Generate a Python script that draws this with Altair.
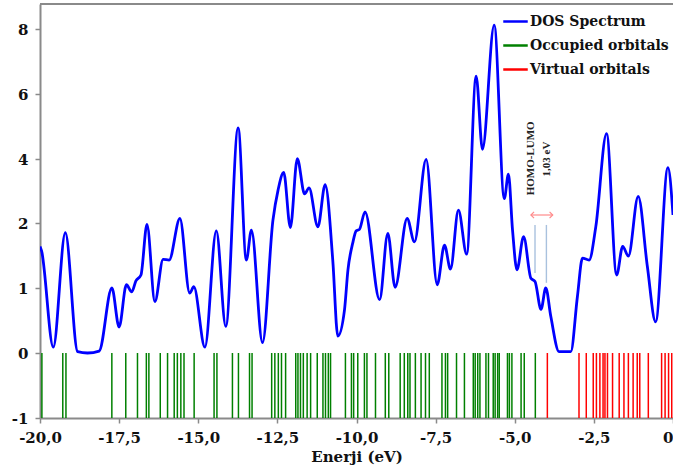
import altair as alt
import pandas as pd

# ---- data ----
dos_energy = [-20.00, -19.95, -19.58, -19.20, -18.81, -18.50, -18.13, -17.73, -17.50, -17.27,
              -17.10, -16.97, -16.81, -16.62, -16.37, -16.11, -15.92, -15.58, -15.27, -15.14,
              -14.79, -14.43, -14.13, -13.74, -13.48, -13.32, -12.97, -12.64, -12.48, -12.30,
              -12.09, -11.87, -11.64, -11.50, -11.22, -10.99, -10.75, -10.59, -10.38, -10.27,
              -10.12, -10.01, -9.91, -9.73, -9.27, -9.01, -8.78, -8.40, -8.17, -7.80,
              -7.45, -7.22, -7.03, -6.78, -6.52, -6.22, -6.02, -5.65, -5.33, -5.20,
              -5.07, -4.93, -4.72, -4.49, -4.36, -4.17, -4.02, -3.86, -3.60, -3.23,
              -3.02, -2.86, -2.65, -2.44, -2.10, -1.78, -1.59, -1.41, -1.10, -0.81,
              -0.55, -0.16, 0.00]
dos_value = [1.64, 1.57, 0.09, 1.85, 0.02, 0.00, 0.03, 1.00, 0.40, 1.05,
             0.94, 1.11, 1.20, 1.98, 0.79, 1.44, 1.43, 2.14, 0.92, 1.02,
             0.09, 1.88, 0.41, 4.96, 1.43, 1.89, 0.16, 2.09, 3.02, 3.58,
             1.93, 4.01, 2.91, 3.10, 1.94, 3.20, 1.43, 0.26, 0.66, 1.28,
             1.69, 1.88, 1.90, 2.35, 0.82, 1.84, 1.01, 2.14, 1.71, 3.99,
             1.05, 1.66, 1.29, 2.40, 1.52, 6.55, 4.30, 8.12, 2.76, 3.53,
             1.89, 1.28, 1.79, 1.15, 1.10, 0.67, 1.00, 0.56, 0.02, 0.02,
             0.87, 1.46, 1.43, 1.94, 4.78, 1.20, 1.64, 1.49, 2.83, 1.33,
             0.48, 3.73, 2.25]

occupied = [-19.94, -19.28, -19.18, -17.73, -17.29, -16.92, -16.64, -16.56, -16.20, -15.97,
            -15.76, -15.66, -15.55, -15.45, -15.13, -14.50, -14.41, -13.92, -13.73, -13.38,
            -13.30, -12.68, -12.58, -12.47, -12.37, -12.24, -11.92, -11.85, -11.77, -11.68,
            -11.56, -11.45, -11.24, -11.06, -10.98, -10.89, -10.82, -10.35, -10.16, -10.09,
            -9.96, -9.75, -9.67, -9.40, -9.09, -8.98, -8.62, -8.49, -8.38, -8.31,
            -8.14, -7.96, -7.82, -7.70, -7.30, -7.19, -7.12, -6.84, -6.59, -6.31,
            -6.25, -6.17, -6.10, -5.91, -5.83, -5.68, -5.62, -5.54, -5.49, -5.23,
            -5.17, -5.09, -4.80, -4.70, -4.35]
virtual = [-3.97, -2.97, -2.74, -2.52, -2.42, -2.31, -2.21, -2.15, -2.07, -1.91,
           -1.70, -1.55, -1.41, -1.26, -1.13, -1.05, -0.78, -0.36, -0.25, -0.14, -0.04]

series_names = ["DOS Spectrum", "Occupied orbitals", "Virtual orbitals"]
series_colors = ["#0000FF", "#008000", "#FF0000"]

x_ticks = [-20, -17.5, -15, -12.5, -10, -7.5, -5, -2.5, 0]
y_ticks = [-1, 0, 1, 2, 4, 6, 8]

homo_lumo_x = [-4.36, -4.00]
homo_lumo_y0 = [1.23, 1.08]
homo_lumo_y1 = [1.97, 1.97]
gap_arrow = [-4.49, -3.80]
gap_arrow_y = 2.25
note_texts = ["HOMO-LUMO", "1,03 eV"]
note_x = [-4.49, -3.97]
note_y = [4.02, 4.00]

# ---- layout ----
W, H = 633, 414
y_domain = [-1, 0, 1, 2, 4, 6, 8, 8.77]
y_range = [414, 349, 284, 219, 155, 90, 25, 0]
FONT = "DejaVu Serif"
NOTE_FONT = "Liberation Serif"

dos_df = pd.DataFrame({"E": dos_energy, "v": dos_value, "series": series_names[0]})
stick_df = pd.DataFrame({
    "E": occupied + virtual,
    "lo": -1, "hi": 0,
    "series": [series_names[1]] * len(occupied) + [series_names[2]] * len(virtual),
})
hl_df = pd.DataFrame({"E": homo_lumo_x, "lo": homo_lumo_y0, "hi": homo_lumo_y1})
arrow_df = pd.DataFrame({"E": [gap_arrow[0]], "E2": [gap_arrow[1]], "y": [gap_arrow_y]})
head_l = pd.DataFrame({"E": [gap_arrow[0]], "y": [gap_arrow_y]})
head_r = pd.DataFrame({"E": [gap_arrow[1]], "y": [gap_arrow_y]})
note_df = pd.DataFrame({"E": note_x, "y": note_y, "t": note_texts})

xs = alt.Scale(domain=[-20, 0], nice=False, zero=False)
ys = alt.Scale(domain=y_domain, range=y_range, nice=False, zero=False)
cs = alt.Scale(domain=series_names, range=series_colors)

x_axis = alt.Axis(
    values=x_ticks, title="Enerji (eV)", labelFlush=False, labelOverlap=False,
    labelAlign={"expr": "datum.value == 0 ? 'right' : 'center'"},
    labelExpr="datum.value == 0 ? '0' : (datum.value < 0 ? '-' : '') + replace(format(abs(datum.value), '.1f'), '.', ',')",
)
y_axis = alt.Axis(values=y_ticks, title=None, labelFlush=False, labelOverlap=False,
                  labelExpr="'' + datum.value")

legend = alt.Legend(title=None, orient="none", legendX=462, legendY=4,
                    symbolType="stroke", symbolSize=600, symbolStrokeWidth=2.5,
                    labelFont=FONT, labelFontWeight="bold", labelFontSize=14,
                    labelColor="#111111", rowPadding=3, padding=0, labelOffset=1)

dos = alt.Chart(dos_df).mark_line(interpolate="monotone", strokeWidth=2.8, clip=True).encode(
    x=alt.X("E:Q", scale=xs, axis=x_axis),
    y=alt.Y("v:Q", scale=ys, axis=y_axis),
    color=alt.Color("series:N", scale=cs, legend=legend),
)

sticks = alt.Chart(stick_df).mark_rule(strokeWidth=1.5).encode(
    x="E:Q", y="lo:Q", y2="hi:Q",
    color=alt.Color("series:N", scale=cs, legend=legend),
)

hl = alt.Chart(hl_df).mark_rule(strokeWidth=1.4, color="#A9C1DE").encode(
    x="E:Q", y="lo:Q", y2="hi:Q")

arrow = alt.Chart(arrow_df).mark_rule(strokeWidth=1.2, color="#FF8A8A").encode(
    x="E:Q", x2="E2:Q", y="y:Q")
arrow_l = alt.Chart(head_l).mark_point(shape="M 1 -1 L 0 0 L 1 1", filled=False, size=40,
                                       strokeWidth=1.2, color="#FF8A8A", opacity=1).encode(x="E:Q", y="y:Q")
arrow_r = alt.Chart(head_r).mark_point(shape="M -1 -1 L 0 0 L -1 1", filled=False, size=40,
                                       strokeWidth=1.2, color="#FF8A8A", opacity=1).encode(x="E:Q", y="y:Q")

notes = alt.Chart(note_df).mark_text(angle=270, font=NOTE_FONT, fontWeight="bold", fontSize=11,
                                     color="#222222").encode(x="E:Q", y="y:Q", text="t:N")

top_border = alt.Chart(pd.DataFrame({"a": [0]})).mark_rule(color="#8a8a8a", strokeWidth=2).encode(
    x=alt.value(0), x2=alt.value(W), y=alt.value(0))

chart = alt.layer(sticks, hl, arrow, arrow_l, arrow_r, notes, dos, top_border).resolve_scale(
    color="shared"
).properties(
    width=W, height=H,
    autosize=alt.AutoSizeParams(type="none"),
    padding={"left": 40, "top": 4, "right": 0, "bottom": 57},
).configure_view(stroke=None).configure_axis(
    grid=False, domainColor="#8a8a8a", domainWidth=2, tickColor="#8a8a8a", tickWidth=1.5,
    tickSize=5, labelPadding=7, labelFont=FONT, labelFontWeight="bold", labelFontSize=15,
    labelColor="#111111", titleFont=FONT, titleFontWeight="bold", titleFontSize=15,
    titleColor="#111111", titlePadding=4,
)

chart.save("out.html", embed_options={"renderer": "svg", "actions": False})
